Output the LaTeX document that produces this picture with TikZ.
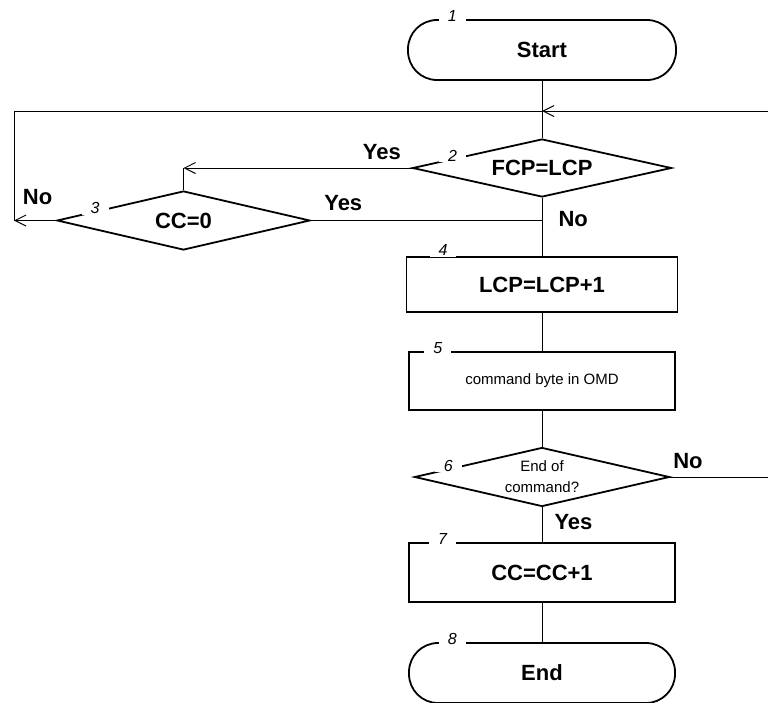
\documentclass[tikz,border=0pt]{standalone}
\usepackage{fontspec}
\setmainfont{Liberation Sans}
\usetikzlibrary{shapes.geometric,arrows.meta}

\tikzset{
    terminal/.style={rectangle, rounded corners=29pt, draw, line width=1.8pt, font=\fontsize{22}{26}\selectfont\bfseries},
    blok/.style={rectangle, draw, line width=1.8pt, font=\fontsize{22}{26}\selectfont\bfseries},
    rombe/.style={diamond, aspect=4.3, draw, line width=1.8pt, inner sep=1pt, font=\fontsize{22}{26}\selectfont\bfseries},
    nummer/.style={fill=white, inner xsep=9pt, inner ysep=1pt, anchor=center, yshift=3pt, font=\fontsize{16}{16}\selectfont\itshape},
    svar/.style={font=\fontsize{22}{26}\selectfont\bfseries, inner sep=2pt},
    pil/.style={-{Straight Barb[length=11pt,width=11pt]}}
}

\begin{document}
\begin{tikzpicture}[x=1pt, y=-1pt, line width=1pt]
    \useasboundingbox (0,0) rectangle (768,702);
    \path node[terminal, minimum width=268pt, minimum height=60pt, label={[nummer]161.7:1}] (start) at (542,50) {Start}
        node[rombe, minimum width=259pt, minimum height=58pt, label={[nummer]174.5:2}] (dec2) at (542,168) {FCP=LCP}
        node[rombe, minimum width=253pt, minimum height=59pt, label={[nummer]174.4:3}] (dec3) at (183.5,220.5) {CC=0}
        node[blok, minimum width=271pt, minimum height=55pt, label={[nummer, yshift=3pt]164.5:4}] (box4) at (542,284.5) {LCP=LCP+1}
        node[blok, minimum width=266pt, minimum height=58pt, font=\fontsize{15}{18}\selectfont, label={[nummer]164.3:5}] (box5) at (542,381) {command byte in OMD}
        node[rombe, minimum width=255pt, minimum height=59pt, align=center, font=\fontsize{15}{21}\selectfont, label={[nummer]175:6}] (dec6) at (542,477) {End of\\command?}
        node[blok, minimum width=266pt, minimum height=59pt, label={[nummer]163.4:7}] (box7) at (542,572.5) {CC=CC+1}
        node[terminal, minimum width=266pt, minimum height=60pt, label={[nummer]161.6:8}] (end) at (542,673) {End};
    \coordinate (join) at (542,111);
    \coordinate (hoejre) at (768,111);
    \coordinate (venstre) at (14,111);
    \coordinate (venstreNed) at (14,220.5);
    \coordinate (ja) at (dec3.north |- dec2.west);
    \coordinate (ud) at (768,477);
    \draw (start) -- (dec2);
    \draw[pil] (hoejre) -- (join);
    \draw (venstreNed) -- (venstre) -- (join);
    \draw[pil] (dec2.west) -- node[pos=0.13, above=6pt, svar] {Yes} (ja);
    \draw (ja) -- (dec3.north);
    \draw[pil] (dec3.west) -- node[pos=0.44, above=13pt, svar] {No} (venstreNed);
    \draw (dec3.east) -- node[pos=0.14, above=7pt, svar] {Yes} (dec3.east -| dec2.south);
    \draw (dec2) -- node[pos=0.37, right=14pt, svar] {No} (box4);
    \draw (box4) -- (box5);
    \draw (box5) -- (dec6);
    \draw (dec6.east) -- node[pos=0.18, above=6pt, svar] {No} (ud);
    \draw (dec6) -- node[pos=0.43, right=10pt, svar] {Yes} (box7);
    \draw (box7) -- (end);
\end{tikzpicture}
\end{document}
